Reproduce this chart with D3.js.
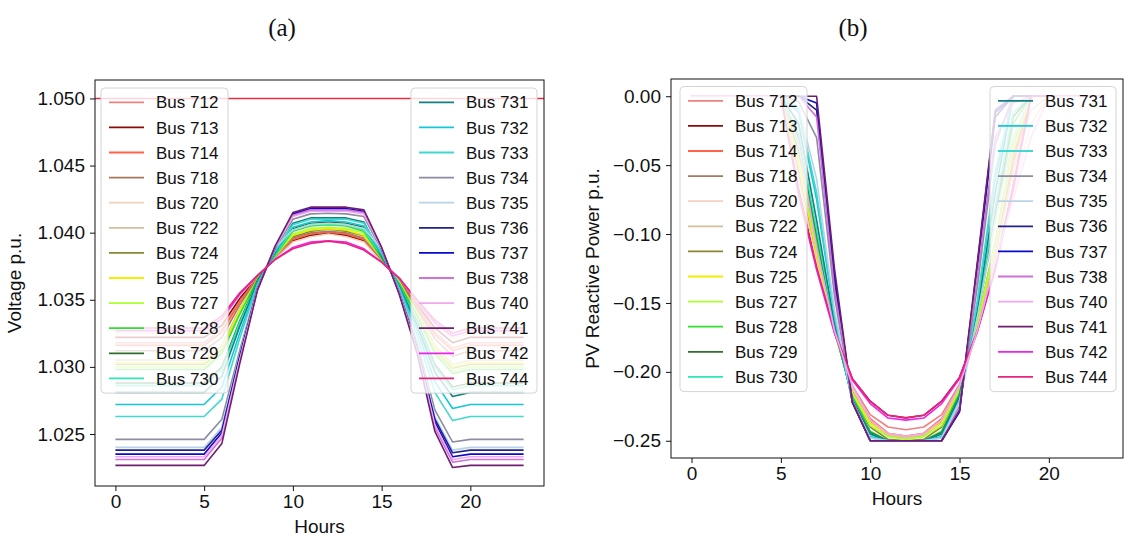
<!DOCTYPE html>
<html>
<head>
<meta charset="utf-8">
<script src="https://cdn.jsdelivr.net/npm/d3@7"></script>
<style>
  body { margin: 0; background: #fff; }
  svg text { font-family: "Liberation Sans", Arial, sans-serif; fill: #111; }
</style>
</head>
<body>
<svg id="chart" width="1125" height="538"></svg>
<script>
// hours on the x axis
var hours = [0,1,2,3,4,5,6,7,8,9,10,11,12,13,14,15,16,17,18,19,20,21,22,23];
var hourTicks = [0, 5, 10, 15, 20];
var voltageTicks = [1.025, 1.030, 1.035, 1.040, 1.045, 1.050];
var reactiveTicks = [-0.25, -0.20, -0.15, -0.10, -0.05, 0.00];
var voltageLimit = 1.05;

// legend groups
var busesLeft = ['712','713','714','718','720','722','724','725','727','728','729','730'];
var busesRight = ['731','732','733','734','735','736','737','738','740','741','742','744'];
var busColours = ['#f08080','#8b0a0a','#ff6347','#a9765e','#f2d2bd','#cfbf9f','#8a8634','#f0f000','#adff2f','#2fe02f','#2f6f2f','#2de8b5',
                  '#108080','#12c8d8','#40d8cf','#8c8ca3','#b9d3e6','#22228c','#0a0acd','#d070d8','#f2a6ee','#6f1f6f','#ee22ee','#e6247c'];

// (a) voltage p.u. per bus
var v712 = [1.0318,1.0318,1.0318,1.0318,1.0318,1.0318,1.0328,1.0349,1.0367,1.0381,1.0394,1.0398,1.0400,1.0398,1.0394,1.0379,1.0365,1.0346,1.0326,1.0314,1.0318,1.0318,1.0318,1.0318];
var v713 = [1.0322,1.0322,1.0322,1.0322,1.0322,1.0322,1.0331,1.0351,1.0367,1.0381,1.0394,1.0398,1.03993,1.0398,1.0394,1.0379,1.0365,1.0347,1.0329,1.0318,1.0322,1.0322,1.0322,1.0322];
var v714 = [1.0316,1.0316,1.0316,1.0316,1.0316,1.0316,1.0326,1.0348,1.0367,1.0381,1.0395,1.0399,1.04005,1.0399,1.0395,1.0379,1.0364,1.0345,1.0324,1.0312,1.0316,1.0316,1.0316,1.0316];
var v718 = [1.0312,1.0312,1.0312,1.0312,1.0312,1.0312,1.0322,1.0346,1.0366,1.0382,1.0396,1.0400,1.0401,1.0400,1.0396,1.0380,1.0364,1.0343,1.0321,1.0308,1.0312,1.0312,1.0312,1.0312];
var v720 = [1.0325,1.0325,1.0325,1.0325,1.0325,1.0325,1.0334,1.0353,1.0368,1.0380,1.0393,1.0397,1.0399,1.0397,1.0393,1.0378,1.0366,1.0348,1.0332,1.0321,1.0325,1.0325,1.0325,1.0325];
var v722 = [1.0305,1.0305,1.0305,1.0305,1.0305,1.0305,1.0316,1.0343,1.0365,1.0382,1.0397,1.0401,1.0402,1.0401,1.0397,1.0381,1.0363,1.0341,1.0316,1.0302,1.0305,1.0305,1.0305,1.0305];
var v724 = [1.0302,1.0302,1.0302,1.0302,1.0302,1.0302,1.0313,1.0341,1.0365,1.0383,1.0397,1.0401,1.0403,1.0401,1.0398,1.0381,1.0363,1.0340,1.0313,1.0299,1.0302,1.0302,1.0302,1.0302];
var v725 = [1.0303,1.0303,1.0303,1.0303,1.0303,1.0303,1.0314,1.0342,1.0365,1.0383,1.0398,1.0402,1.0403,1.0402,1.0398,1.0381,1.0363,1.0340,1.0314,1.0300,1.0303,1.0303,1.0303,1.0303];
var v727 = [1.0300,1.0300,1.0300,1.0300,1.0300,1.0300,1.0311,1.0340,1.0365,1.0383,1.0399,1.0403,1.0404,1.0403,1.0400,1.0381,1.0363,1.0339,1.0312,1.0297,1.0300,1.0300,1.0300,1.0300];
var v728 = [1.0298,1.0298,1.0298,1.0298,1.0298,1.0298,1.0310,1.0339,1.0365,1.0383,1.0401,1.0405,1.0406,1.0405,1.0401,1.0381,1.0362,1.0338,1.0310,1.0295,1.0298,1.0298,1.0298,1.0298];
var v729 = [1.0288,1.0288,1.0288,1.0288,1.0288,1.0288,1.0300,1.0334,1.0364,1.0384,1.0403,1.0407,1.0408,1.0407,1.0404,1.0382,1.0361,1.0334,1.0302,1.0285,1.0288,1.0288,1.0288,1.0288];
var v730 = [1.0286,1.0286,1.0286,1.0286,1.0286,1.0286,1.0298,1.0333,1.0363,1.0384,1.0402,1.0406,1.0406,1.0406,1.0402,1.0383,1.0361,1.0333,1.0300,1.0283,1.0286,1.0286,1.0286,1.0286];
var v731 = [1.0281,1.0281,1.0281,1.0281,1.0281,1.0281,1.0293,1.0330,1.0363,1.0385,1.0407,1.0411,1.0411,1.0411,1.0408,1.0383,1.0360,1.0331,1.0296,1.0278,1.0281,1.0281,1.0281,1.0281];
var v732 = [1.0272,1.0272,1.0272,1.0272,1.0272,1.0272,1.0285,1.0325,1.0362,1.0386,1.0404,1.0408,1.0409,1.0408,1.0405,1.0384,1.0359,1.0328,1.0289,1.0269,1.0272,1.0272,1.0272,1.0272];
var v733 = [1.0263,1.0263,1.0263,1.0263,1.0263,1.0263,1.0276,1.0321,1.0361,1.0387,1.0406,1.0410,1.0410,1.0410,1.0407,1.0385,1.0358,1.0324,1.0281,1.0260,1.0263,1.0263,1.0263,1.0263];
var v734 = [1.0246,1.0246,1.0246,1.0246,1.0246,1.0246,1.0261,1.0312,1.0359,1.0388,1.0410,1.0414,1.04145,1.0414,1.0412,1.0387,1.0356,1.0318,1.0268,1.0244,1.0246,1.0246,1.0246,1.0246];
var v735 = [1.0240,1.0240,1.0240,1.0240,1.0240,1.0240,1.0255,1.0309,1.0358,1.0389,1.0402,1.0406,1.0407,1.0406,1.0403,1.0388,1.0356,1.0315,1.0263,1.0238,1.0240,1.0240,1.0240,1.0240];
var v736 = [1.0238,1.0238,1.0238,1.0238,1.0238,1.0238,1.0253,1.0308,1.0358,1.0389,1.0413,1.0417,1.0417,1.0417,1.0415,1.0388,1.0355,1.0314,1.0261,1.0236,1.0238,1.0238,1.0238,1.0238];
var v737 = [1.0235,1.0235,1.0235,1.0235,1.0235,1.0235,1.0251,1.0306,1.0358,1.0389,1.0414,1.0418,1.0418,1.0418,1.0416,1.0388,1.0355,1.0313,1.0259,1.0233,1.0235,1.0235,1.0235,1.0235];
var v738 = [1.0231,1.0231,1.0231,1.0231,1.0231,1.0231,1.0247,1.0304,1.0357,1.0390,1.0413,1.0417,1.0417,1.0417,1.0415,1.0389,1.0354,1.0312,1.0255,1.0229,1.0231,1.0231,1.0231,1.0231];
var v740 = [1.0233,1.0233,1.0233,1.0233,1.0233,1.0233,1.0249,1.0305,1.0358,1.0389,1.0412,1.0416,1.0416,1.0416,1.0414,1.0388,1.0355,1.0312,1.0257,1.0231,1.0233,1.0233,1.0233,1.0233];
var v741 = [1.02266,1.02266,1.02266,1.02266,1.02266,1.02266,1.0243,1.0302,1.0357,1.0390,1.0415,1.0419,1.0419,1.0419,1.0417,1.0389,1.0354,1.0310,1.0252,1.0225,1.02266,1.02266,1.02266,1.02266];
var v742 = [1.0327,1.0327,1.0327,1.0327,1.0327,1.0327,1.0336,1.0354,1.0368,1.0380,1.0389,1.0393,1.0394,1.0393,1.0388,1.0378,1.0366,1.0349,1.0333,1.0323,1.0327,1.0327,1.0327,1.0327];
var v744 = [1.0329,1.0329,1.0329,1.0329,1.0329,1.0329,1.0338,1.0355,1.0368,1.0380,1.0388,1.0392,1.03937,1.0392,1.0387,1.0378,1.0366,1.0350,1.0335,1.0325,1.0329,1.0329,1.0329,1.0329];

// (b) PV reactive power p.u. per bus
var q712 = [0,0,0,0,0,0,-0.058,-0.118,-0.170,-0.210,-0.231,-0.240,-0.242,-0.240,-0.231,-0.209,-0.168,-0.115,-0.050,0,0,0,0,0];
var q713 = [0,0,0,0,0,0,-0.068,-0.123,-0.170,-0.205,-0.2213,-0.2315,-0.2334,-0.2315,-0.2213,-0.204,-0.170,-0.124,-0.066,0,0,0,0,0];
var q714 = [0,0,0,0,0,0,-0.055,-0.117,-0.171,-0.212,-0.234,-0.2445,-0.2465,-0.2445,-0.234,-0.211,-0.167,-0.113,-0.046,0,0,0,0,0];
var q718 = [0,0,0,0,0,0,-0.050,-0.114,-0.171,-0.214,-0.236,-0.246,-0.248,-0.246,-0.236,-0.212,-0.166,-0.111,-0.042,0,0,0,0,0];
var q720 = [0,0,0,0,0,0,-0.060,-0.120,-0.170,-0.212,-0.235,-0.245,-0.247,-0.245,-0.235,-0.212,-0.170,-0.120,-0.070,-0.020,0,0,0,0];
var q722 = [0,0,0,0,0,0,-0.048,-0.113,-0.170,-0.215,-0.237,-0.246,-0.248,-0.246,-0.237,-0.213,-0.167,-0.115,-0.055,-0.010,0,0,0,0];
var q724 = [0,0,0,0,0,0,-0.040,-0.110,-0.170,-0.217,-0.240,-0.249,-0.250,-0.249,-0.240,-0.214,-0.164,-0.106,-0.035,0,0,0,0,0];
var q725 = [0,0,0,0,0,0,-0.050,-0.115,-0.170,-0.215,-0.237,-0.2453,-0.2472,-0.2453,-0.237,-0.212,-0.165,-0.110,-0.040,0,0,0,0,0];
var q727 = [0,0,0,0,0,0,-0.045,-0.112,-0.170,-0.216,-0.239,-0.247,-0.249,-0.247,-0.239,-0.213,-0.164,-0.107,-0.036,0,0,0,0,0];
var q728 = [0,0,0,0,0,0,-0.035,-0.105,-0.168,-0.218,-0.243,-0.250,-0.250,-0.250,-0.243,-0.216,-0.160,-0.090,-0.020,0,0,0,0,0];
var q729 = [0,0,0,0,0,0,-0.030,-0.100,-0.168,-0.219,-0.244,-0.250,-0.250,-0.250,-0.244,-0.217,-0.158,-0.085,-0.015,0,0,0,0,0];
var q730 = [0,0,0,0,0,0,-0.028,-0.097,-0.167,-0.219,-0.245,-0.250,-0.250,-0.250,-0.245,-0.218,-0.157,-0.080,-0.012,0,0,0,0,0];
var q731 = [0,0,0,0,0,0,-0.020,-0.090,-0.165,-0.220,-0.245,-0.250,-0.250,-0.250,-0.245,-0.218,-0.155,-0.070,0,0,0,0,0,0];
var q732 = [0,0,0,0,0,0,-0.012,-0.075,-0.160,-0.222,-0.247,-0.250,-0.250,-0.250,-0.247,-0.221,-0.150,-0.060,0,0,0,0,0,0];
var q733 = [0,0,0,0,0,0,-0.010,-0.070,-0.158,-0.222,-0.248,-0.250,-0.250,-0.250,-0.248,-0.222,-0.148,-0.055,0,0,0,0,0,0];
var q734 = [0,0,0,0,0,0,-0.004,-0.030,-0.145,-0.222,-0.250,-0.250,-0.250,-0.250,-0.250,-0.225,-0.138,-0.035,0,0,0,0,0,0];
var q735 = [0,0,0,0,0,0,-0.008,-0.060,-0.155,-0.221,-0.248,-0.250,-0.250,-0.250,-0.248,-0.222,-0.160,-0.090,-0.030,0,0,0,0,0];
var q736 = [0,0,0,0,0,0,0,-0.010,-0.135,-0.222,-0.250,-0.250,-0.250,-0.250,-0.250,-0.228,-0.125,-0.015,0,0,0,0,0,0];
var q737 = [0,0,0,0,0,0,0,-0.005,-0.130,-0.222,-0.250,-0.250,-0.250,-0.250,-0.250,-0.229,-0.122,-0.012,0,0,0,0,0,0];
var q738 = [0,0,0,0,0,0,0,-0.015,-0.140,-0.221,-0.250,-0.250,-0.250,-0.250,-0.250,-0.226,-0.130,-0.030,-0.005,0,0,0,0,0];
var q740 = [0,0,0,0,0,0,-0.035,-0.110,-0.170,-0.210,-0.235,-0.245,-0.247,-0.245,-0.235,-0.210,-0.170,-0.120,-0.075,-0.030,0,0,0,0];
var q741 = [0,0,0,0,0,0,0,0,-0.125,-0.222,-0.250,-0.250,-0.250,-0.250,-0.250,-0.228,-0.120,-0.010,0,0,0,0,0,0];
var q742 = [0,0,0,0,0,0,-0.072,-0.126,-0.172,-0.206,-0.223,-0.2335,-0.235,-0.2335,-0.223,-0.205,-0.171,-0.126,-0.068,0,0,0,0,0];
var q744 = [0,0,0,0,0,0,-0.070,-0.124,-0.170,-0.205,-0.2213,-0.2315,-0.2334,-0.2315,-0.2213,-0.204,-0.170,-0.124,-0.065,0,0,0,0,0];

var buses = busesLeft.concat(busesRight);
var voltageSeries = [v712,v713,v714,v718,v720,v722,v724,v725,v727,v728,v729,v730,
                     v731,v732,v733,v734,v735,v736,v737,v738,v740,v741,v742,v744];
var reactiveSeries = [q712,q713,q714,q718,q720,q722,q724,q725,q727,q728,q729,q730,
                      q731,q732,q733,q734,q735,q736,q737,q738,q740,q741,q742,q744];

var svg = d3.select('#chart');

function drawLegend(g, names, colours, x, top, width) {
    var rowH = 25.1;
    var lg = g.append('g').attr('class', 'legend');
    lg.append('rect')
        .attr('x', x).attr('y', top)
        .attr('width', width).attr('height', 14 + 11 * rowH + 15)
        .attr('rx', 4)
        .style('fill', '#fff').style('fill-opacity', 0.8)
        .style('stroke', '#d4d4d4').style('stroke-width', 1);

    var rows = lg.selectAll('.legend-row')
        .data(names)
        .enter().append('g')
        .attr('class', 'legend-row')
        .attr('transform', function(d, i) { return 'translate(' + x + ',' + (top + 14.3 + i * rowH) + ')'; });

    rows.append('line')
        .attr('x1', 8).attr('x2', 43)
        .style('stroke', function(d, i) { return colours[i]; })
        .style('stroke-width', 1.8);

    rows.append('text')
        .attr('x', 55)
        .attr('dy', '0.36em')
        .style('font-size', '17px')
        .text(function(d) { return 'Bus ' + d; });
}

function drawPanel(p) {
    var g = svg.append('g');
    var x = d3.scaleLinear().domain([-1.15, 24.15]).range([p.left, p.right]);
    var y = d3.scaleLinear().domain(p.yDomain).range([p.bottom, p.top]);

    var line = d3.line()
        .x(function(d, i) { return x(hours[i]); })
        .y(function(d) { return y(d); });

    var series = p.series.map(function(values, i) {
        return { bus: buses[i], colour: busColours[i], values: values };
    });

    var paths = g.selectAll('.bus-line')
        .data(series)
        .enter().append('path')
        .attr('class', 'bus-line')
        .attr('d', function(d) { return line(d.values); })
        .style('fill', 'none')
        .style('stroke', function(d) { return d.colour; })
        .style('stroke-width', 1.6)
        .style('stroke-linejoin', 'round');

    if (p.raiseBus) {
        paths.filter(function(d) { return d.bus === p.raiseBus; }).raise();
    }

    if (p.limit !== undefined) {
        g.append('line')
            .attr('x1', p.left).attr('x2', p.right)
            .attr('y1', y(p.limit)).attr('y2', y(p.limit))
            .style('stroke', '#e62e45')
            .style('stroke-width', 1.5);
    }

    // axes
    var xAxis = g.append('g')
        .attr('transform', 'translate(0,' + p.bottom + ')')
        .call(d3.axisBottom(x).tickValues(hourTicks).tickSize(5).tickPadding(4).tickFormat(d3.format('d')));
    var yAxis = g.append('g')
        .attr('transform', 'translate(' + p.left + ',0)')
        .call(d3.axisLeft(y).tickValues(p.yTicks).tickSize(5).tickPadding(5).tickFormat(d3.format(p.yFormat)));

    [xAxis, yAxis].forEach(function(a) {
        a.select('.domain').remove();
        a.selectAll('line').style('stroke', '#111');
        a.selectAll('text').style('font-size', '19px').attr('font-family', null).style('fill', '#111');
    });

    // frame
    g.append('rect')
        .attr('x', p.left).attr('y', p.top)
        .attr('width', p.right - p.left).attr('height', p.bottom - p.top)
        .style('fill', 'none').style('stroke', '#111').style('stroke-width', 1);

    // labels
    g.append('text')
        .attr('x', (p.left + p.right) / 2)
        .attr('y', p.bottom + 47)
        .attr('text-anchor', 'middle')
        .style('font-size', '19px')
        .text('Hours');

    g.append('text')
        .attr('transform', 'translate(' + p.yLabelX + ',' + ((p.top + p.bottom) / 2) + ') rotate(-90)')
        .attr('text-anchor', 'middle')
        .style('font-size', '19px')
        .text(p.yLabel);

    g.append('text')
        .attr('x', p.titleX)
        .attr('y', 36)
        .attr('text-anchor', 'middle')
        .style('font-family', '"Liberation Serif", "Times New Roman", serif')
        .style('font-size', '25px')
        .text(p.title);

    drawLegend(g, busesLeft, busColours.slice(0, 12), p.legendLeftX, p.legendTop, 127);
    drawLegend(g, busesRight, busColours.slice(12), p.legendRightX, p.legendTop, 126);
}

drawPanel({
    left: 95, right: 544, top: 80, bottom: 486,
    yDomain: [1.021125, 1.051375],
    yTicks: voltageTicks, yFormat: '.3f',
    series: voltageSeries,
    limit: voltageLimit,
    yLabel: 'Voltage p.u.', yLabelX: 21,
    title: '(a)', titleX: 282,
    legendLeftX: 101, legendRightX: 411, legendTop: 88
});

drawPanel({
    left: 671, right: 1123, top: 79, bottom: 458,
    yDomain: [-0.2625, 0.0125],
    yTicks: reactiveTicks, yFormat: '.2f',
    series: reactiveSeries,
    raiseBus: '740',
    yLabel: 'PV Reactive Power p.u.', yLabelX: 599,
    title: '(b)', titleX: 853,
    legendLeftX: 680, legendRightX: 990, legendTop: 86.5
});
</script>
</body>
</html>
